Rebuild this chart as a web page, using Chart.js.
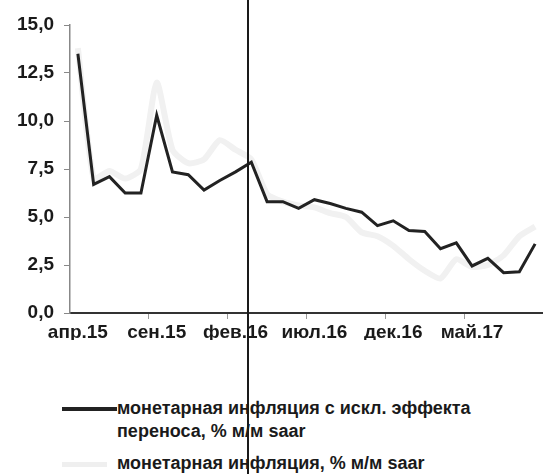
<!DOCTYPE html>
<html>
<head>
<meta charset="utf-8">
<script src="https://cdn.jsdelivr.net/npm/chart.js@4.4.1/dist/chart.umd.min.js"></script>
<style>
  html, body { margin: 0; padding: 0; background: #fff; }
  #wrap { position: relative; width: 543px; height: 474px; overflow: hidden; font-family: "Liberation Sans", Arial, sans-serif; }
  #box { position: absolute; left: 0; top: 0; width: 543px; height: 340px; }
  .leg { position: absolute; left: 117px; font-weight: bold; font-size: 18px; color: #1a1a1a; line-height: 23px; white-space: nowrap; }
  .swatch { position: absolute; left: 62px; width: 55px; }
  #fold { position: absolute; left: 247px; top: 0; width: 2px; height: 474px; background: #1a1a1a; }
</style>
</head>
<body>
<div id="wrap">
  <div id="box"><canvas id="inflChart"></canvas></div>
  <div class="swatch" style="top:407px;height:4px;background:#222;"></div>
  <div class="leg" style="top:397px;">монетарная инфляция с искл. эффекта<br>переноса, % м/м saar</div>
  <div class="swatch" style="top:462px;height:5px;background:#efefef;width:45px;"></div>
  <div class="leg" style="top:452px;">монетарная инфляция, % м/м saar</div>
  <div id="fold"></div>
</div>
<script>
// месяцы апр.15 - сен.17
const months = ['апр.15', 'май.15', 'июн.15', 'июл.15', 'авг.15', 'сен.15', 'окт.15', 'ноя.15', 'дек.15', 'янв.16',
                'фев.16', 'мар.16', 'апр.16', 'май.16', 'июн.16', 'июл.16', 'авг.16', 'сен.16', 'окт.16', 'ноя.16',
                'дек.16', 'янв.17', 'фев.17', 'мар.17', 'апр.17', 'май.17', 'июн.17', 'июл.17', 'авг.17', 'сен.17'];

// монетарная инфляция с искл. эффекта переноса
const coreInfl = [13.5, 6.7, 7.1, 6.25, 6.25, 10.3, 7.35, 7.2, 6.4, 6.9,
                  7.35, 7.85, 5.8, 5.8, 5.45, 5.9, 5.7, 5.45, 5.25, 4.55,
                  4.8, 4.3, 4.25, 3.35, 3.65, 2.45, 2.85, 2.1, 2.15, 3.6];

// монетарная инфляция (бледная линия)
const totalInfl = [13.8, 7.0, 7.4, 7.0, 7.5, 12.0, 8.5, 7.8, 8.0, 9.0,
                   8.5, 8.0, 6.2, 5.8, 5.6, 5.5, 5.2, 5.0, 4.2, 4.0,
                   3.5, 2.8, 2.2, 1.8, 2.8, 2.4, 2.5, 3.0, 4.0, 4.5];

const labelStep = 5;
const yTicks = [0, 2.5, 5, 7.5, 10, 12.5, 15];

const ctx = document.getElementById('inflChart').getContext('2d');
const inflChart = new Chart(ctx, {
    type: 'line',
    data: {
        labels: months,
        datasets: [{
            label: 'монетарная инфляция с искл. эффекта переноса, % м/м saar',
            data: coreInfl,
            borderColor: '#222',
            borderWidth: 3,
            pointRadius: 0,
            tension: 0,
            order: 1
        }, {
            label: 'монетарная инфляция, % м/м saar',
            data: totalInfl,
            borderColor: '#f1f1f1',
            borderWidth: 6,
            pointRadius: 0,
            tension: 0.2,
            order: 2
        }]
    },
    options: {
        responsive: true,
        maintainAspectRatio: false,
        animation: false,
        layout: { padding: { top: 25, right: 0, left: 0, bottom: 0 } },
        plugins: {
            legend: { display: false },
            tooltip: { enabled: false }
        },
        scales: {
            x: {
                offset: true,
                border: { color: '#333', width: 2 },
                grid: {
                    offset: true,
                    drawOnChartArea: false,
                    tickLength: 6,
                    tickColor: function(c) {
                        return c.index % labelStep === 0 && c.index > 0 ? '#999' : 'rgba(0,0,0,0)';
                    }
                },
                ticks: {
                    autoSkip: false,
                    maxRotation: 0,
                    padding: 2,
                    color: '#1a1a1a',
                    font: { family: 'Liberation Sans', size: 19, weight: 'bold' },
                    callback: function(value, index) {
                        return index % labelStep === 0 ? months[index] : '';
                    }
                },
                afterFit: function(scale) { scale.height = 27; }
            },
            y: {
                min: 0,
                max: 15,
                afterBuildTicks: function(scale) {
                    scale.ticks = yTicks.map(v => ({ value: v }));
                },
                border: { color: '#888', width: 1.5 },
                grid: {
                    drawOnChartArea: false,
                    tickLength: 6,
                    tickColor: '#888'
                },
                ticks: {
                    padding: 10,
                    color: '#1a1a1a',
                    font: { family: 'Liberation Sans', size: 19, weight: 'bold' },
                    callback: function(value) {
                        return value.toFixed(1).replace('.', ',');
                    }
                },
                afterFit: function(scale) { scale.width = 70; }
            }
        }
    }
});
</script>
</body>
</html>
